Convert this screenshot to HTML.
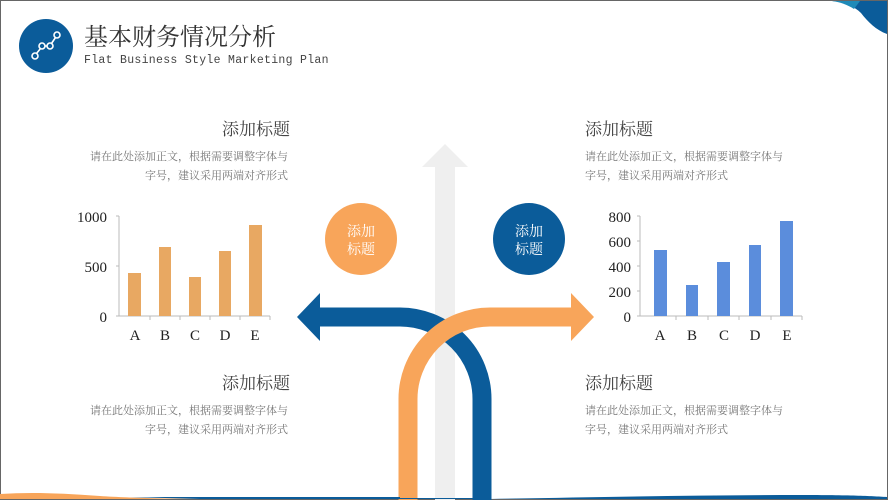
<!DOCTYPE html>
<html><head><meta charset="utf-8"><style>
html,body{margin:0;padding:0;background:#fff}
body{width:888px;height:500px;overflow:hidden;position:relative;font-family:"Liberation Serif","Noto Serif CJK SC",serif}
svg{position:absolute;left:0;top:0}
</style></head><body>
<svg width="888" height="500" viewBox="0 0 888 500" xmlns="http://www.w3.org/2000/svg">
<rect x="0.5" y="0.5" width="887" height="499" fill="#fff" stroke="#666" stroke-width="1"/>
<!-- top-right swoosh -->
<path d="M832,1 L887,1 L887,34 C876,30 868,22 861,13 C854,6 844,2 832,1 Z" fill="#0b5c9a"/>
<path d="M832,1 C840,2 848,5 854,9 L860,1 Z" fill="#1f8ab8"/>
<!-- header -->
<circle cx="46" cy="46" r="27" fill="#0b5c9a"/>
<g fill="none" stroke="#fff" stroke-width="1.6">
<circle cx="35" cy="56" r="3"/><circle cx="42" cy="46" r="3"/><circle cx="50" cy="46" r="3"/><circle cx="57" cy="35" r="3"/>
<line x1="36.5" y1="53.5" x2="40.5" y2="48.5"/><line x1="45" y1="46" x2="47" y2="46"/><line x1="51.5" y1="43.5" x2="55.5" y2="37.5"/>
</g>
<text x="84" y="45" font-size="24" fill="#333" font-family="Liberation Serif, Noto Serif CJK SC, serif">基本财务情况分析</text>
<text x="84" y="63" font-size="11.5" fill="#444" font-family="Liberation Mono, monospace" letter-spacing="0.3">Flat Business Style Marketing Plan</text>

<!-- gray arrow -->
<rect x="435" y="166" width="20" height="334" fill="#efefef"/>
<polygon points="445,144 468,167 422,167" fill="#efefef"/>
<!-- blue arrow -->
<path d="M318,317 L400,317 A82,82 0 0 1 482,399 L482,500" fill="none" stroke="#0b5c9a" stroke-width="19"/>
<polygon points="297,317 320,293 320,341" fill="#0b5c9a"/>
<!-- orange arrow -->
<path d="M408,500 L408,400 A82,82 0 0 1 490,317 L573,317" fill="none" stroke="#f8a55a" stroke-width="19"/>
<polygon points="594,317 571,293 571,341" fill="#f8a55a"/>

<!-- circles -->
<circle cx="361" cy="239" r="36" fill="#f8a55a"/>
<circle cx="529" cy="239" r="36" fill="#0b5c9a"/>
<g font-size="14" fill="#fff" text-anchor="middle" font-family="Liberation Serif, Noto Serif CJK SC, serif">
<text x="361" y="236">添加</text><text x="361" y="254">标题</text>
<text x="529" y="236">添加</text><text x="529" y="254">标题</text>
</g>

<!-- bottom wave -->
<path d="M0,494 C30,492 60,493 100,496 C130,498 180,499 240,499 L0,499 Z" fill="#f8a55a"/>
<path d="M130,497 C220,497 320,497 400,497 L400,499 L200,499 Z" fill="#0b5c9a"/>
<path d="M490,499 C600,497 700,495 800,495 C850,495 870,496 887,497 L887,499 Z" fill="#0b5c9a"/>
<rect x="400" y="498" width="90" height="1" fill="#0b5c9a"/>

<!-- texts -->
<g fill="#444" font-size="17" font-family="Liberation Serif, Noto Serif CJK SC, serif">
<text x="290" y="135" text-anchor="end">添加标题</text>
<text x="585" y="135">添加标题</text>
<text x="290" y="389" text-anchor="end">添加标题</text>
<text x="585" y="389">添加标题</text>
</g>
<g fill="#777" font-size="11" font-family="Liberation Serif, Noto Serif CJK SC, serif">
<text x="288" y="160" text-anchor="end">请在此处添加正文，根据需要调整字体与</text>
<text x="288" y="179" text-anchor="end">字号，建议采用两端对齐形式</text>
<text x="585" y="160">请在此处添加正文，根据需要调整字体与</text>
<text x="585" y="179">字号，建议采用两端对齐形式</text>
<text x="288" y="414" text-anchor="end">请在此处添加正文，根据需要调整字体与</text>
<text x="288" y="433" text-anchor="end">字号，建议采用两端对齐形式</text>
<text x="585" y="414">请在此处添加正文，根据需要调整字体与</text>
<text x="585" y="433">字号，建议采用两端对齐形式</text>
</g>

<!-- left chart -->
<g stroke="#bbb" stroke-width="1">
<line x1="119" y1="216" x2="119" y2="316"/><line x1="116" y1="216" x2="119" y2="216"/><line x1="116" y1="266" x2="119" y2="266"/>
<line x1="116" y1="316" x2="270" y2="316"/>
<line x1="150" y1="316" x2="150" y2="320"/><line x1="180" y1="316" x2="180" y2="320"/><line x1="210" y1="316" x2="210" y2="320"/><line x1="240" y1="316" x2="240" y2="320"/><line x1="270" y1="316" x2="270" y2="320"/>
</g>
<g fill="#e8a862">
<rect x="128" y="273" width="13" height="43"/>
<rect x="159" y="247" width="12" height="69"/>
<rect x="189" y="277" width="12" height="39"/>
<rect x="219" y="251" width="12" height="65"/>
<rect x="249" y="225" width="13" height="91"/>
</g>
<g fill="#222" font-size="15">
<text x="107" y="222" text-anchor="end">1000</text>
<text x="107" y="272" text-anchor="end">500</text>
<text x="107" y="322" text-anchor="end">0</text>
<g text-anchor="middle"><text x="135" y="340">A</text><text x="165" y="340">B</text><text x="195" y="340">C</text><text x="225" y="340">D</text><text x="255" y="340">E</text></g>
</g>

<!-- right chart -->
<g stroke="#bbb" stroke-width="1">
<line x1="640" y1="216" x2="640" y2="316"/>
<line x1="637" y1="216" x2="640" y2="216"/><line x1="637" y1="241" x2="640" y2="241"/><line x1="637" y1="266" x2="640" y2="266"/><line x1="637" y1="291" x2="640" y2="291"/>
<line x1="637" y1="316" x2="802" y2="316"/>
<line x1="676" y1="316" x2="676" y2="320"/><line x1="708" y1="316" x2="708" y2="320"/><line x1="739" y1="316" x2="739" y2="320"/><line x1="771" y1="316" x2="771" y2="320"/><line x1="802" y1="316" x2="802" y2="320"/>
</g>
<g fill="#5b8ddc">
<rect x="654" y="250" width="13" height="66"/>
<rect x="686" y="285" width="12" height="31"/>
<rect x="717" y="262" width="13" height="54"/>
<rect x="749" y="245" width="12" height="71"/>
<rect x="780" y="221" width="13" height="95"/>
</g>
<g fill="#222" font-size="15">
<text x="631" y="222" text-anchor="end">800</text>
<text x="631" y="247" text-anchor="end">600</text>
<text x="631" y="272" text-anchor="end">400</text>
<text x="631" y="297" text-anchor="end">200</text>
<text x="631" y="322" text-anchor="end">0</text>
<g text-anchor="middle"><text x="660" y="340">A</text><text x="692" y="340">B</text><text x="724" y="340">C</text><text x="755" y="340">D</text><text x="787" y="340">E</text></g>
</g>
</svg>
</body></html>
